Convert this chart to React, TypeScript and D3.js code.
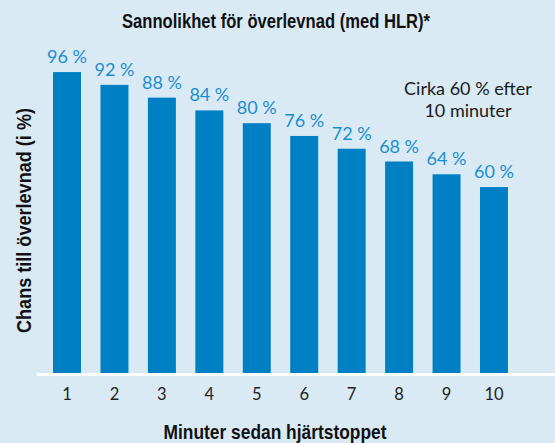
import React, { useRef, useEffect } from "react";
import * as d3 from "d3";

const minutes = ["1", "2", "3", "4", "5", "6", "7", "8", "9", "10"];
const survival = [96, 92, 88, 84, 80, 76, 72, 68, 64, 60];
const title = "Sannolikhet för överlevnad (med HLR)*";
const yTitle = "Chans till överlevnad (i %)";
const xTitle = "Minuter sedan hjärtstoppet";
const noteLines = ["Cirka 60 % efter", "10 minuter"];

const App = () => {
  const ref = useRef<SVGSVGElement>(null);

  useEffect(() => {
    const width = 555;
    const height = 443;
    const baseline = 373;
    const condensed = "'Liberation Sans Narrow', 'Liberation Sans', Arial, sans-serif";
    const light = "Lato, 'Noto Sans', sans-serif";

    const svg = d3.select(ref.current);
    svg.selectAll("*").remove();

    svg.append("rect").attr("width", width).attr("height", height).attr("fill", "#d9eaf5");

    const x = d3
      .scaleBand()
      .domain(minutes)
      .range([43.3, 517.7])
      .paddingInner(0.41)
      .paddingOuter(0.205);

    const y = d3.scaleLinear().domain([0, 100]).range([378.7, 59.3]);

    // bars
    svg
      .selectAll(".bar")
      .data(survival)
      .enter()
      .append("rect")
      .attr("class", "bar")
      .attr("x", (d, i) => x(minutes[i]))
      .attr("y", (d) => y(d))
      .attr("width", x.bandwidth())
      .attr("height", (d) => baseline - y(d))
      .attr("fill", "#0080c4");

    // baseline
    svg
      .append("line")
      .attr("x1", 37)
      .attr("x2", width)
      .attr("y1", baseline + 1.5)
      .attr("y2", baseline + 1.5)
      .attr("stroke", "#fff")
      .attr("stroke-width", 3);

    // value labels
    svg
      .selectAll(".val")
      .data(survival)
      .enter()
      .append("text")
      .attr("x", (d, i) => x(minutes[i]) + x.bandwidth() / 2)
      .attr("y", (d) => y(d) - 9)
      .attr("text-anchor", "middle")
      .attr("font-family", light)
      .attr("font-size", 18)
      .attr("fill", "#1b8ed0")
      .text((d) => `${d} %`);

    // tick labels
    svg
      .selectAll(".tick")
      .data(minutes)
      .enter()
      .append("text")
      .attr("x", (d) => x(d) + x.bandwidth() / 2)
      .attr("y", 400)
      .attr("text-anchor", "middle")
      .attr("font-family", light)
      .attr("font-size", 16.5)
      .attr("fill", "#222")
      .text((d) => d);

    const boldText = (sel, len) =>
      sel
        .attr("text-anchor", "middle")
        .attr("font-family", condensed)
        .attr("font-weight", "bold")
        .attr("font-size", 21)
        .attr("fill", "#111")
        .attr("textLength", len)
        .attr("lengthAdjust", "spacingAndGlyphs");

    // title
    boldText(svg.append("text").attr("x", 276).attr("y", 28), 308).text(title);

    // x title
    boldText(svg.append("text").attr("x", 275).attr("y", 439), 223).text(xTitle);

    // y title
    boldText(
      svg.append("text").attr("transform", "translate(31,220.5) rotate(-90)"),
      225
    ).text(yTitle);

    // note
    svg
      .selectAll(".note")
      .data(noteLines)
      .enter()
      .append("text")
      .attr("x", 468)
      .attr("y", (d, i) => 95 + i * 22)
      .attr("text-anchor", "middle")
      .attr("font-family", light)
      .attr("font-size", 18)
      .attr("fill", "#1a1a1a")
      .text((d) => d);
  }, []);

  return (
    <div style={{ position: "fixed", left: 0, top: 0 }}>
      <svg ref={ref} width={555} height={443} style={{ display: "block" }} />
    </div>
  );
};

export default App;
